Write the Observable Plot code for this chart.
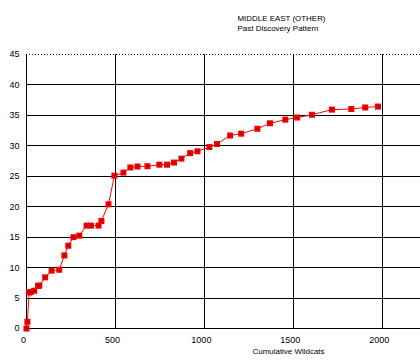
<!DOCTYPE html>
<html>
<head>
<meta charset="utf-8">
<script src="https://cdn.jsdelivr.net/npm/d3@7"></script>
<script src="https://cdn.jsdelivr.net/npm/@observablehq/plot@0.6"></script>
<style>
  html, body { margin: 0; padding: 0; background: white; }
</style>
</head>
<body>
<div id="chart"></div>
<script>
const title = "MIDDLE EAST (OTHER)";
const subtitle = "Past Discovery Pattern";
const xTitle = "Cumulative Wildcats";

const wildcats = [0, 5, 15, 25, 43, 65, 72, 105, 141, 184, 213, 235, 264, 297, 338, 362, 405, 421, 461, 494, 545, 584, 624, 680, 747, 790, 829, 871, 920, 961, 1028, 1071, 1145, 1207, 1298, 1369, 1455, 1522, 1605, 1717, 1826, 1904, 1976];
const discoveries = [0, 1.1, 5.9, 6.0, 6.2, 7.0, 7.05, 8.4, 9.5, 9.65, 12.0, 13.6, 15.0, 15.25, 16.9, 16.9, 16.9, 17.65, 20.4, 25.1, 25.6, 26.45, 26.6, 26.65, 26.9, 26.9, 27.25, 27.9, 28.8, 29.1, 29.8, 30.3, 31.7, 32.0, 32.8, 33.7, 34.3, 34.65, 35.1, 35.95, 36.05, 36.3, 36.45];

const xTicks = [0, 500, 1000, 1500, 2000];
const yTicks = [0, 5, 10, 15, 20, 25, 30, 35, 40, 45];

const data = wildcats.map((x, i) => ({x, y: discoveries[i]}));

const chart = Plot.plot({
  width: 420,
  height: 363,
  marginTop: 54,
  marginLeft: 26,
  marginRight: 0,
  marginBottom: 35,
  style: {fontFamily: "Liberation Sans, Arial, sans-serif", fontSize: "9px", color: "black", background: "white"},
  x: {domain: [0, 2215]},
  y: {domain: [0, 45]},
  marks: [
    Plot.gridY(yTicks.filter(t => t > 0 && t < 45), {stroke: "black", strokeOpacity: 1, shapeRendering: "crispEdges"}),
    Plot.ruleY([45], {stroke: "black", strokeDasharray: "1,2", shapeRendering: "crispEdges"}),
    Plot.gridX(xTicks.filter(t => t > 0), {stroke: "black", strokeOpacity: 1, shapeRendering: "crispEdges"}),
    Plot.ruleY([0], {stroke: "black", shapeRendering: "crispEdges"}),
    Plot.ruleX([0], {stroke: "black", shapeRendering: "crispEdges"}),
    Plot.axisY(yTicks, {tickSize: 0, tickPadding: 7, label: null, tickFormat: d => String(d)}),
    Plot.axisX(xTicks, {tickSize: 0, tickPadding: 8, label: null, dx: -3, tickFormat: d => String(d)}),
    Plot.line(data, {x: "x", y: "y", stroke: "red", strokeWidth: 1}),
    Plot.dot(data, {x: "x", y: "y", symbol: "square", r: 3.4, fill: "#f00000", stroke: "none"}),
    Plot.dot(data, {x: "x", y: "y", symbol: "square", r: 0.9, fill: "#701010", stroke: "none"}),
    Plot.text([xTitle], {frameAnchor: "bottom", dx: 65, dy: 25.5, fontSize: 8}),
    Plot.text([title], {frameAnchor: "top-left", textAnchor: "start", dx: 211, dy: -39.5, fontSize: 8}),
    Plot.text([subtitle], {frameAnchor: "top-left", textAnchor: "start", dx: 211, dy: -29.2, fontSize: 8})
  ]
});
document.getElementById("chart").appendChild(chart);
// fit label widths to the reference's bitmap font
const widths = new Map([[title, 88], [subtitle, 81], [xTitle, 72]]);
d3.select(chart).selectAll("text").each(function() {
  const t = this.textContent;
  if (widths.has(t)) {
    this.setAttribute("textLength", widths.get(t));
    this.setAttribute("lengthAdjust", "spacingAndGlyphs");
  }
});
</script>
</body>
</html>
